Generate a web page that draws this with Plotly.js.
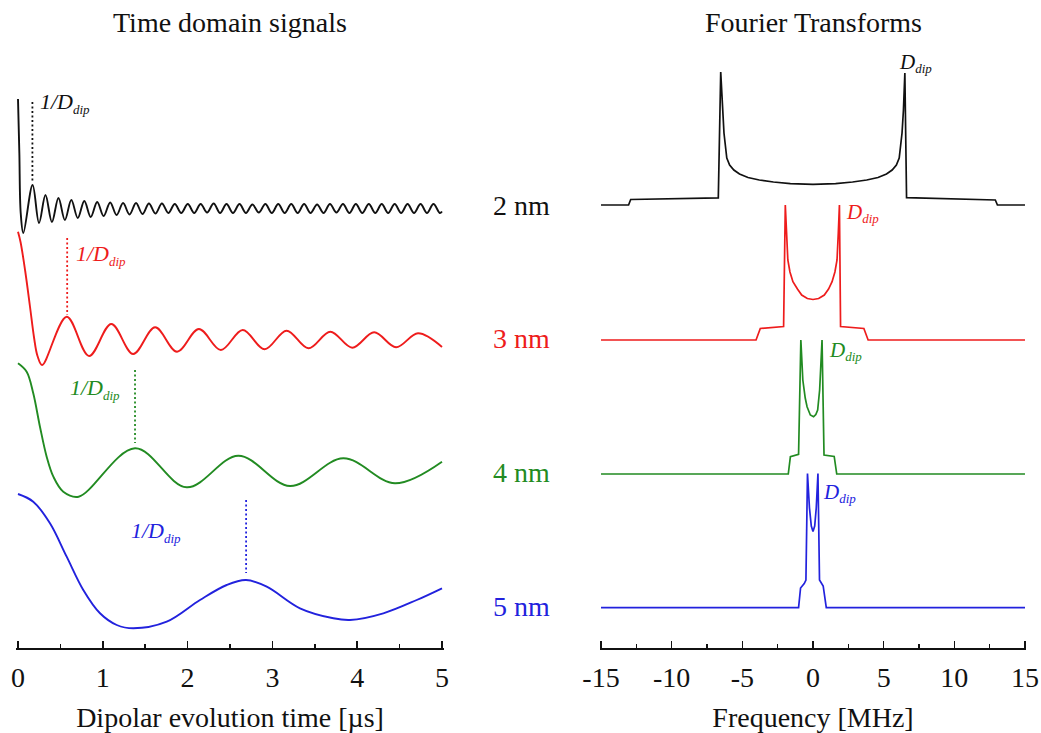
<!DOCTYPE html>
<html><head><meta charset="utf-8">
<script src="https://cdn.plot.ly/plotly-3.0.1.min.js"></script>
<style>html,body{margin:0;padding:0;background:#fff}#chart{width:1041px;height:733px}</style>
</head><body><div id="chart"></div>
<script>
// ---------- data (arbitrary stacked-signal units) ----------
const distanceLabels = ['2 nm', '3 nm', '4 nm', '5 nm'];

// Time-domain signals (time in µs)
const time_2nm = [0, 0.016, 0.032, 0.063,
  0.172, 0.248, 0.324, 0.400, 0.477, 0.553, 0.629, 0.705, 0.782, 0.858,
  0.934, 1.010, 1.087, 1.163, 1.239, 1.315, 1.392, 1.468, 1.544, 1.620,
  1.697, 1.773, 1.849, 1.925, 2.002, 2.078, 2.154, 2.230, 2.307, 2.383,
  2.459, 2.535, 2.612, 2.688, 2.764, 2.840, 2.917, 2.993, 3.069, 3.145,
  3.222, 3.298, 3.374, 3.450, 3.527, 3.603, 3.679, 3.755, 3.832, 3.908,
  3.984, 4.060, 4.137, 4.213, 4.289, 4.365, 4.442, 4.518, 4.594, 4.670,
  4.747, 4.823, 4.899, 4.975, 5.0];
const signal_2nm = [549, 495, 435, 415,
  463, 425, 453, 426, 450, 428, 448, 430, 447, 431,
  446, 432, 445.5, 433, 445, 433.5, 445, 434, 444.5, 434.5,
  444.5, 435, 444, 435, 444, 435, 444, 435.5, 444.5, 435,
  444, 435, 444, 435, 443.5, 435.5, 444, 435, 444, 435,
  444, 435, 444, 435, 443.5, 435, 444, 435.5, 444, 435,
  444, 435, 444, 435, 444, 435, 444, 435, 444, 435,
  444, 435, 444, 435, 436.5];

const time_3nm = [0, 0.03, 0.085, 0.142, 0.19, 0.23, 0.285, 0.575, 0.838, 1.100, 1.358, 1.617, 1.875,
  2.133, 2.392, 2.650, 2.908, 3.167, 3.425, 3.683, 3.942, 4.200, 4.458, 4.717, 5.0];
const signal_3nm = [416.3, 406, 377, 341, 310, 292, 283, 331.3, 292, 324, 294, 320.7, 296.3,
  319, 298, 318, 298.7, 317.3, 299.7, 316.3, 300.3, 315.7, 300.7, 314.7, 301];

const time_4nm = [0, 0.102, 0.180, 0.259, 0.338, 0.417, 0.534, 0.715, 1.380, 1.989, 2.598, 3.208, 3.836, 4.446, 5.0];
const signal_4nm = [284.7, 276.3, 254.7, 221.3, 191.3, 171.3, 156.3, 151.3, 199.7, 160.7, 192.3, 162, 189.7, 164.7, 186.3];

const time_5nm = [0, 0.180, 0.377, 0.574, 0.770, 0.967, 1.164, 1.360, 1.754, 2.146, 2.461, 2.689, 2.933, 3.325, 3.719, 3.915, 4.308, 4.702, 5.0];
const signal_5nm = [154, 146.3, 124.7, 91.3, 58, 34.7, 23, 19.7, 26.3, 48, 63, 68, 61.3, 39.7, 29.7, 28, 34.7, 48, 59.7];

// 1/Ddip markers (time, top and bottom of dotted line)
const markTime = [0.17, 0.58, 1.38, 2.69];
const markTop = [546, 410, 278, 148];
const markBottom = [465, 333, 205, 75];

// Fourier transforms (frequency in MHz)
const freq_2nm = [-15, -13.05, -12.9, -6.7, -6.53, -6.4, -6.3, -6.1, -5.9, -5.6, -5.2, -4.6, -3.8, -2.8, -1.6, 0,
  1.6, 2.8, 3.8, 4.6, 5.2, 5.6, 5.9, 6.1, 6.3, 6.4, 6.5, 6.62, 12.9, 13.05, 15];
const spec_2nm = [443, 443, 448.5, 450.2, 576, 538, 515, 490, 483, 478, 474, 470.5, 468, 466, 464.4, 463.7,
  464.4, 466, 468, 470.5, 474, 478, 483, 490, 515, 538, 575, 450.3, 448, 443, 443];

const freq_3nm = [-15, -4.03, -3.73, -2.08, -1.96, -1.89, -1.78, -1.63, -1.42, -1.1, -0.8, -0.4, 0,
  0.4, 0.8, 1.1, 1.35, 1.55, 1.7, 1.79, 1.87, 1.95, 3.6, 3.9, 15];
const spec_3nm = [308, 308, 319.5, 321.5, 443, 415, 388, 376, 366.3, 359, 353, 349.5, 348.5,
  349.5, 353, 359, 366.3, 376, 388, 415, 443, 321.5, 319.5, 308, 308];

const freq_4nm = [-15, -1.75, -1.6, -1.02, -0.86, -0.72, -0.55, -0.42, -0.19, 0.04, 0.2, 0.33, 0.47, 0.64, 0.78, 1.5, 1.68, 15];
const spec_4nm = [174, 174, 191.3, 193.7, 308, 268, 250, 241.3, 233, 231.3, 233.5, 238, 258, 308, 193, 191.5, 174, 174];

const freq_5nm = [-15, -1.02, -0.88, -0.62, -0.5, -0.39, -0.25, -0.12, 0, 0.12, 0.23, 0.35, 0.46, 0.72, 0.94, 15];
const spec_5nm = [40.3, 40.3, 60, 64.5, 68, 174.5, 140, 122, 116.5, 122, 140, 174.5, 68, 62, 40.3, 40.3];

// baselines of the spectra (where the distance labels sit)
const specBaseline = [443, 310, 176, 42];

// ticks
const timeTicks = [0, 1, 2, 3, 4, 5];
const timeTickText = ['0', '1', '2', '3', '4', '5'];
const freqTicks = [-15, -10, -5, 0, 5, 10, 15];
const freqTickText = ['-15', '-10', '-5', '0', '5', '10', '15'];

// ---------- styling ----------
const colors = ['#111111', '#ee1c1c', '#228b22', '#2222dd'];
const serif = '"Times New Roman", "Liberation Serif", serif';

const timeX = [time_2nm, time_3nm, time_4nm, time_5nm];
const timeY = [signal_2nm, signal_3nm, signal_4nm, signal_5nm];
const freqX = [freq_2nm, freq_3nm, freq_4nm, freq_5nm];
const freqY = [spec_2nm, spec_3nm, spec_4nm, spec_5nm];

const traces = [];
for (let i = 0; i < 4; i++) {
  traces.push({type: 'scatter', mode: 'lines', x: timeX[i], y: timeY[i], xaxis: 'x', yaxis: 'y',
    line: {color: colors[i], width: 1.9, shape: 'spline', smoothing: 1}, hoverinfo: 'skip'});
  traces.push({type: 'scatter', mode: 'lines', x: [markTime[i], markTime[i]], y: [markTop[i], markBottom[i]],
    xaxis: 'x', yaxis: 'y', line: {color: colors[i], width: 1.8, dash: '2px,2.5px'}, hoverinfo: 'skip'});
  traces.push({type: 'scatter', mode: 'lines', x: freqX[i], y: freqY[i], xaxis: 'x2', yaxis: 'y2',
    line: {color: colors[i], width: 1.7, shape: 'linear'}, hoverinfo: 'skip'});
}

const oneOverD = [[0.24, 545], [0.655, 393], [0.585, 259], [1.31, 116]];
const dLabel = [[5.95, 585], [2.2, 435], [1.0, 297], [0.6, 155]];
const annotations = [];
for (let i = 0; i < 4; i++) {
  annotations.push({xref: 'x', yref: 'y', x: oneOverD[i][0], y: oneOverD[i][1], xanchor: 'left', yanchor: 'middle',
    showarrow: false, text: '<i>1/D<sub><span style="font-size:13px">dip</span></sub></i>',
    font: {family: serif, size: 22, color: colors[i]}});
  annotations.push({xref: 'x2', yref: 'y2', x: dLabel[i][0], y: dLabel[i][1], xanchor: 'left', yanchor: 'middle',
    showarrow: false, text: '<i>D<sub><span style="font-size:13px">dip</span></sub></i>',
    font: {family: serif, size: 21, color: colors[i]}});
  annotations.push({xref: 'paper', yref: 'y2', x: 521 / 1041, y: specBaseline[i], xanchor: 'center', yanchor: 'middle',
    showarrow: false, text: distanceLabels[i], font: {family: serif, size: 28, color: colors[i]}});
}
annotations.push({xref: 'x', yref: 'paper', x: 2.5, y: (648 - 22) / 600, xanchor: 'center', yanchor: 'middle',
  showarrow: false, text: 'Time domain signals', font: {family: serif, size: 28, color: '#111'}});
annotations.push({xref: 'x2', yref: 'paper', x: 0, y: (648 - 22) / 600, xanchor: 'center', yanchor: 'middle',
  showarrow: false, text: 'Fourier Transforms', font: {family: serif, size: 28, color: '#111'}});

const axisCommon = {
  showline: true, linecolor: '#111', linewidth: 1.6, mirror: false,
  ticks: 'inside', ticklen: 7, tickwidth: 1.6, tickcolor: '#111',
  showgrid: false, zeroline: false, automargin: false,
  tickfont: {family: serif, size: 28, color: '#111'},
  tickmode: 'array', ticklabelstandoff: 4
};

const layout = {
  width: 1041, height: 733,
  margin: {l: 0, r: 0, t: 48, b: 85},
  paper_bgcolor: '#fff', plot_bgcolor: '#fff',
  showlegend: false,
  xaxis: Object.assign({}, axisCommon, {
    domain: [16.3 / 1041, 443.7 / 1041], range: [-0.02, 5.02], anchor: 'y',
    tickvals: timeTicks, ticktext: timeTickText,
    minor: {ticks: 'inside', ticklen: 4.5, tickwidth: 1.6, tickcolor: '#111', tickmode: 'array', tickvals: [0.5, 1.5, 2.5, 3.5, 4.5]},
    title: {text: 'Dipolar evolution time [µs]', font: {family: serif, size: 28, color: '#111'}, standoff: 16}
  }),
  yaxis: {domain: [0, 1], range: [0, 600], visible: false, fixedrange: true, anchor: 'x'},
  xaxis2: Object.assign({}, axisCommon, {
    domain: [599.6 / 1041, 1026.4 / 1041], range: [-15.1, 15.1], anchor: 'y2',
    tickvals: freqTicks, ticktext: freqTickText,
    minor: {ticks: 'inside', ticklen: 4.5, tickwidth: 1.6, tickcolor: '#111', tickmode: 'array', tickvals: [-12.5, -7.5, -2.5, 2.5, 7.5, 12.5]},
    title: {text: 'Frequency [MHz]', font: {family: serif, size: 28, color: '#111'}, standoff: 16}
  }),
  yaxis2: {domain: [0, 1], range: [0, 600], visible: false, fixedrange: true, anchor: 'x2'},
  annotations: annotations
};

Plotly.newPlot('chart', traces, layout, {staticPlot: true, displayModeBar: false});
</script></body></html>
